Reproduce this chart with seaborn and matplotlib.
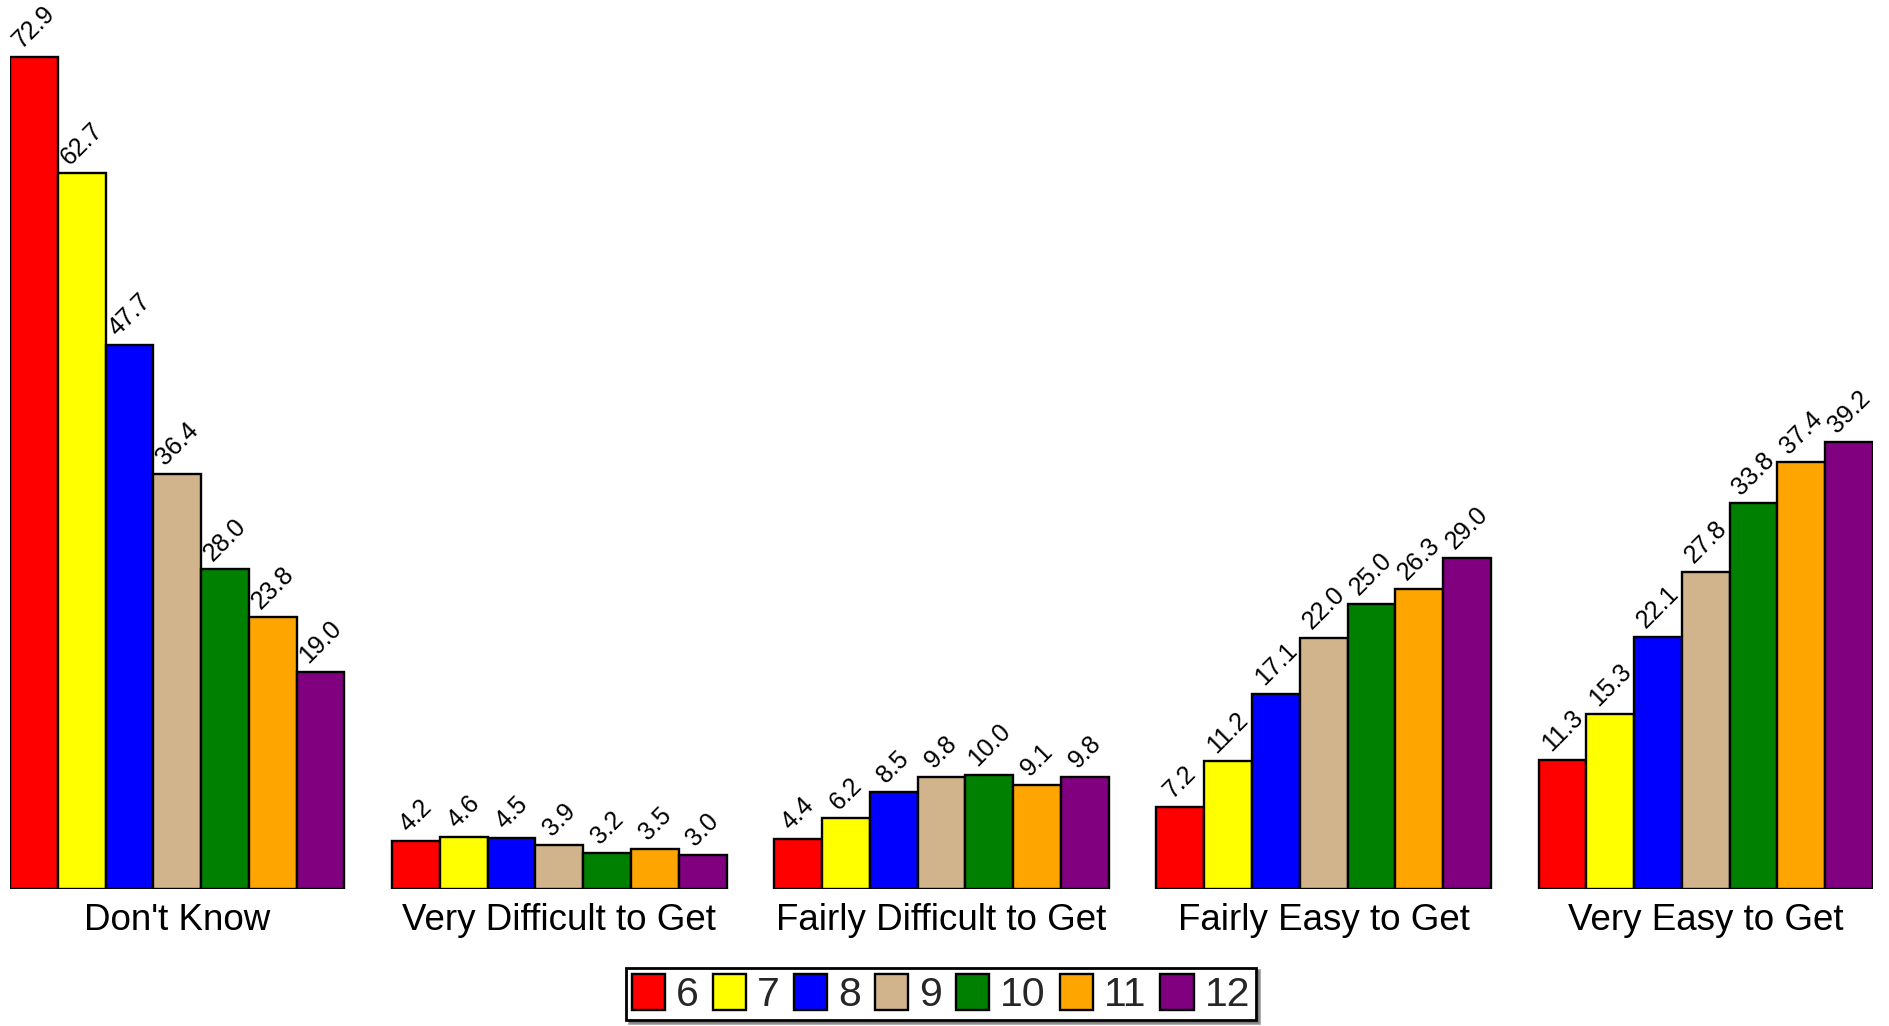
import matplotlib
matplotlib.use("Agg")
import matplotlib.pyplot as plt
import seaborn as sns
import pandas as pd

categories = ["Don't Know", "Very Difficult to Get", "Fairly Difficult to Get",
              "Fairly Easy to Get", "Very Easy to Get"]
grades = ["6", "7", "8", "9", "10", "11", "12"]
colors = ["#ff0000", "#ffff00", "#0000ff", "#d2b48c", "#008000", "#ffa500", "#800080"]

g6 = [72.9, 4.2, 4.4, 7.2, 11.3]
g7 = [62.7, 4.6, 6.2, 11.2, 15.3]
g8 = [47.7, 4.5, 8.5, 17.1, 22.1]
g9 = [36.4, 3.9, 9.8, 22.0, 27.8]
g10 = [28.0, 3.2, 10.0, 25.0, 33.8]
g11 = [23.8, 3.5, 9.1, 26.3, 37.4]
g12 = [19.0, 3.0, 9.8, 29.0, 39.2]
series = [g6, g7, g8, g9, g10, g11, g12]

rows = []
for gr, vals in zip(grades, series):
    for c, v in zip(categories, vals):
        rows.append({"category": c, "grade": gr, "value": v})
df = pd.DataFrame(rows)

sns.set_theme(style="white")
plt.rcParams["font.family"] = ["Liberation Sans", "DejaVu Sans"]

fig = plt.figure(figsize=(18.89, 10.26), dpi=100)
ax = fig.add_axes([0.0053, 0.1335, 0.9862, 0.8665])

sns.barplot(data=df, x="category", y="value", hue="grade", order=categories,
            hue_order=grades, palette=colors, width=0.875, dodge=True,
            edgecolor="black", linewidth=1.7, errorbar=None, ax=ax,
            saturation=1, legend=True)

for cont in ax.containers:
    ax.bar_label(cont, fmt="%.1f", rotation=45, padding=3, fontsize=18,
                 color="black")

ax.set_ylim(0, 77.9)
ax.set_xlim(-0.4375, 4.4375)
ax.set_xlabel("")
ax.set_ylabel("")
ax.set_yticks([])
ax.tick_params(axis="x", labelsize=26.5, length=0, pad=10, colors="black")
for s in ax.spines.values():
    s.set_visible(False)

ax.get_legend().remove()
handles, labels = ax.get_legend_handles_labels()
leg = fig.legend(handles[:7], labels[:7], loc="center",
                 bbox_to_anchor=(941 / 1889, 1 - 994 / 1026), ncol=7,
                 fontsize=29.5, frameon=True, shadow=True, fancybox=False,
                 edgecolor="black", handlelength=0.82, handleheight=1.0,
                 handletextpad=0.26, columnspacing=0.34, borderpad=0.15,
                 borderaxespad=0)
leg.get_frame().set_linewidth(2)

fig.savefig("out.png", dpi=100)
